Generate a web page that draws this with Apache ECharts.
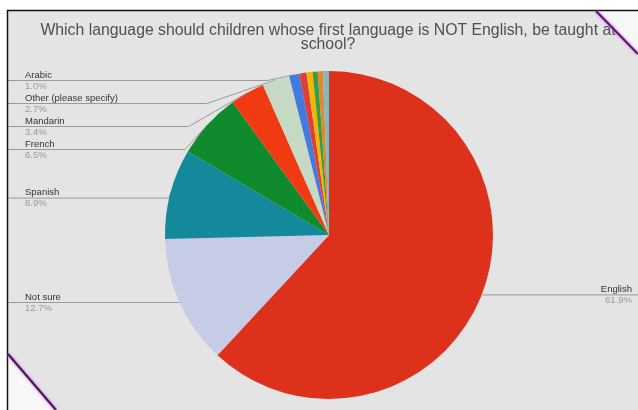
<!DOCTYPE html>
<html>
<head>
<meta charset="utf-8">
<script src="https://cdn.jsdelivr.net/npm/echarts@6/dist/echarts.min.js"></script>
<style>
  html, body { margin: 0; padding: 0; background: #ffffff; }
  #chart { width: 638px; height: 410px; }
</style>
</head>
<body>
<div id="chart"></div>
<script>
// ---- data ----
const titleText = 'Which language should children whose first language is NOT English, be taught at\nschool?';
const categories = ['English', 'Not sure', 'Spanish', 'French', 'Mandarin', 'Other (please specify)', 'Arabic',
                    'Unlabeled 1', 'Unlabeled 2', 'Unlabeled 3', 'Unlabeled 4', 'Unlabeled 5'];
const values = [61.9, 12.7, 8.9, 6.5, 3.4, 2.7, 1.0, 0.7, 0.6, 0.5, 0.5, 0.6];
const labelled = [true, true, true, true, true, true, true, false, false, false, false, false];
const colors = ['#dd311b', '#c6cbe6', '#13899b', '#0f8a2c', '#f03b12', '#c6d9c4', '#4479df',
                '#dc4038', '#f2b705', '#3b9a44', '#dc8a2e', '#8cb6be'];

const LABEL_W = 120;

const data = categories.map((name, i) => ({
  name: name,
  value: values[i],
  itemStyle: { color: colors[i] },
  label: labelled[i]
    ? (i === 0 ? { show: true, edgeDistance: 6, align: 'right' } : { show: true, edgeDistance: 25, align: 'left' })
    : { show: false },
  labelLine: { show: labelled[i] }
}));

const chart = echarts.init(document.getElementById('chart'), null, { renderer: 'canvas' });
chart.setOption({
  backgroundColor: '#e4e4e4',
  animation: false,
  title: {
    text: titleText,
    left: 328,
    textAlign: 'center',
    top: 23,
    padding: 0,
    textStyle: { fontFamily: 'Liberation Sans', fontSize: 15.8, fontWeight: 'normal', color: '#505050', lineHeight: 14.5 }
  },
  series: [{
    type: 'pie',
    left: 0, right: 0, top: 69, bottom: 0,
    center: [329, 166],
    radius: 164,
    startAngle: 90,
    clockwise: true,
    avoidLabelOverlap: true,
    data: data,
    label: {
      position: 'outside',
      alignTo: 'edge',
      width: LABEL_W,
      distanceToLabelLine: -LABEL_W,
      formatter: p => '{n|' + p.name + '}\n{p|' + p.value.toFixed(1) + '%}',
      rich: {
        n: { fontFamily: 'Liberation Sans', fontSize: 9.5, color: '#333333', lineHeight: 11 },
        p: { fontFamily: 'Liberation Sans', fontSize: 9.5, color: '#9a9a9a', lineHeight: 11 }
      }
    },
    labelLine: {
      length: 0,
      length2: 10,
      lineStyle: { color: '#9a9a9a', width: 1 }
    },
    emphasis: { disabled: true }
  }],
  graphic: [
    { type: 'rect', z: 100, shape: { x: 0, y: 0, width: 638, height: 10 }, style: { fill: '#ffffff' } },
    { type: 'rect', z: 100, shape: { x: 0, y: 0, width: 7, height: 410 }, style: { fill: '#ffffff' } },
    { type: 'line', z: 101, shape: { x1: 7, y1: 10.5, x2: 638, y2: 10.5 }, style: { stroke: '#111111', lineWidth: 1.5 } },
    { type: 'line', z: 101, shape: { x1: 7.5, y1: 10, x2: 7.5, y2: 410 }, style: { stroke: '#111111', lineWidth: 1.5 } },
    { type: 'polygon', z: 100, shape: { points: [[596, 11], [638, 11], [638, 55]] }, style: { fill: 'rgba(250,250,250,0.85)' } },
    { type: 'line', z: 102, shape: { x1: 596, y1: 11, x2: 638, y2: 54 }, style: { stroke: '#5a1a70', lineWidth: 2.2, shadowBlur: 3, shadowColor: '#d060e0' } },
    { type: 'polygon', z: 100, shape: { points: [[8, 354], [8, 410], [56, 410]] }, style: { fill: 'rgba(250,250,250,0.85)' } },
    { type: 'line', z: 102, shape: { x1: 8, y1: 354, x2: 56, y2: 410 }, style: { stroke: '#4a1a5a', lineWidth: 2.2, shadowBlur: 3, shadowColor: '#d060e0' } }
  ]
});
</script>
</body>
</html>
